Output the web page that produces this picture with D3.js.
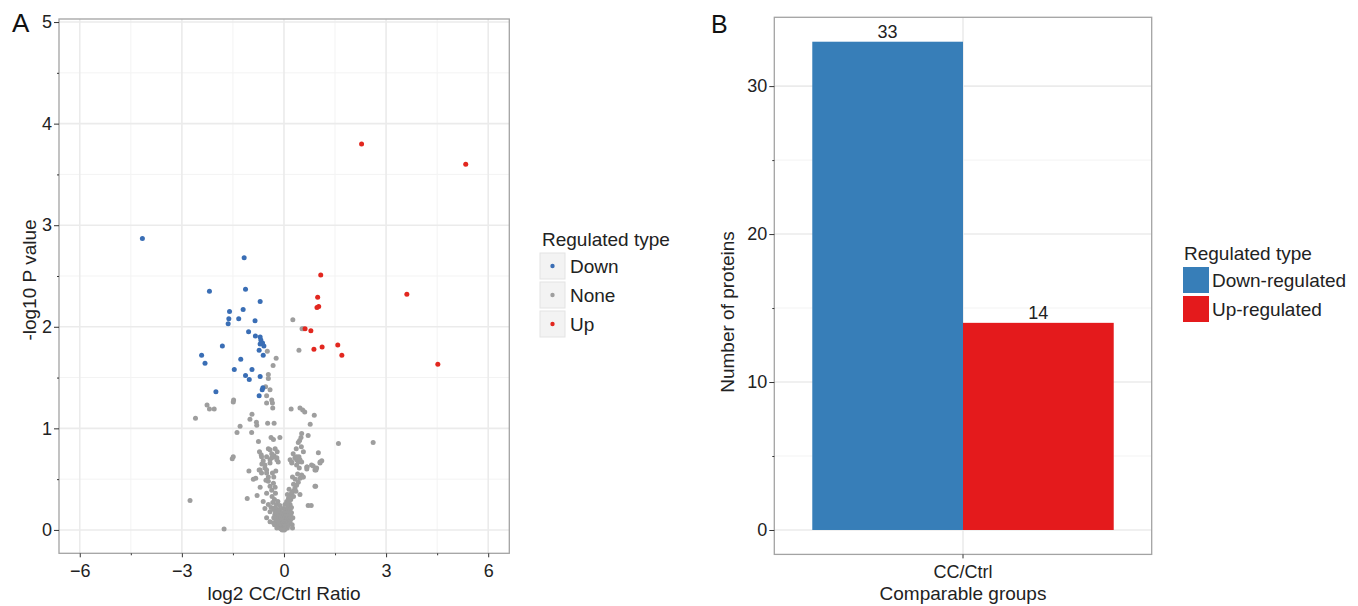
<!DOCTYPE html>
<html>
<head>
<meta charset="utf-8">
<script src="https://cdn.jsdelivr.net/npm/d3@7"></script>
<style>
  body { margin: 0; background: #fff; }
  svg { font-family: "Liberation Sans", Arial, Helvetica, sans-serif; }
  .axis text { font-size: 18px; fill: #222; }
  .axis line { stroke: #333; }
  .axis path { display: none; }
</style>
</head>
<body>
<script>
// ---- data: panel A (volcano), [log2 ratio, -log10 p] ----
var downPoints = [
  [-4.16,2.87],[-1.17,2.68],[-2.19,2.35],[-1.13,2.37],[-0.70,2.25],[-1.60,2.15],[-1.20,2.17],
  [-1.62,2.08],[-1.64,2.03],[-1.33,2.08],[-0.85,2.06],[-1.04,1.95],[-0.84,1.91],[-0.70,1.90],
  [-0.68,1.87],[-0.63,1.84],[-0.70,1.83],[-0.59,1.81],[-0.73,1.77],[-0.61,1.72],[-1.81,1.81],
  [-2.42,1.72],[-2.32,1.64],[-1.27,1.68],[-1.46,1.58],[-0.94,1.58],[-1.13,1.52],[-1.02,1.48],
  [-0.70,1.51],[-2.00,1.36],[-0.64,1.38],[-0.62,1.40],[-0.73,1.32]
];
var upPoints = [
  [2.28,3.80],[5.34,3.60],[1.08,2.51],[0.99,2.29],[1.02,2.20],[0.97,2.19],[3.61,2.32],
  [0.62,1.98],[0.79,1.96],[0.88,1.78],[1.12,1.80],[1.58,1.82],[1.70,1.72],[4.52,1.63]
];
var nonePoints = [
  [0.26,2.07],[0.53,1.98],[0.57,1.98],[0.44,1.77],[-0.49,1.76],[-0.23,1.69],[-0.32,1.62],[-0.46,1.53],
  [-0.46,1.49],[-0.54,1.41],[-0.41,1.38],[-0.51,1.32],[-0.36,1.28],[-0.34,1.25],[-0.33,1.20],[-0.51,1.25],
  [-1.48,1.28],[-1.49,1.26],[-2.26,1.23],[-2.19,1.19],[-2.05,1.19],[-2.60,1.10],[-0.94,1.14],[-1.00,1.09],
  [-0.81,1.06],[-0.80,1.03],[-1.29,1.02],[-1.38,0.96],[-0.95,0.96],[-0.48,1.05],[-0.29,1.05],[0.21,1.19],
  [0.47,1.20],[0.55,1.18],[0.61,1.16],[0.89,1.13],[0.77,1.04],[0.52,0.95],[0.50,0.91],[0.46,0.88],
  [0.42,0.86],[0.71,0.93],[1.60,0.85],[2.62,0.86],[-0.75,0.87],[-0.38,0.91],[-0.31,0.89],[-0.12,0.91],
  [-0.46,0.80],[-0.41,0.79],[-0.26,0.80],[-0.20,0.77],[-0.36,0.75],[-0.29,0.73],[-0.21,0.71],[-0.17,0.67],
  [-0.41,0.69],[-0.61,0.68],[-0.65,0.65],[-0.72,0.77],[-0.67,0.74],[-1.49,0.72],[-1.52,0.70],
  [0.51,0.82],[0.57,0.77],[0.44,0.72],[0.23,0.67],[0.37,0.69],[0.52,0.67],[0.27,0.75],[0.36,0.80],
  [1.01,0.76],[1.11,0.68],[1.06,0.66],[0.86,0.63],[0.94,0.59],[0.68,0.62],
  [-1.03,0.58],[-0.83,0.51],[-0.90,0.50],[-0.73,0.59],[-0.70,0.42],[-0.79,0.34],[-1.08,0.31],[-2.76,0.29],
  [-1.76,0.01],[-0.56,0.61],[-0.51,0.56],[-0.46,0.52],[-0.53,0.49],[-0.70,0.59],[-0.66,0.56],[-0.51,0.59],
  [-0.56,0.64],[-0.41,0.66],[-0.36,0.71],[-0.31,0.72],[-0.21,0.69],[-0.51,0.72],[-0.66,0.72],
  [-0.46,0.48],[-0.41,0.43],[-0.31,0.46],[-0.36,0.39],[-0.51,0.36],[-0.61,0.28],[-0.46,0.25],[-0.56,0.21],
  [-0.41,0.18],[-0.51,0.12],[-0.41,0.08],[-0.31,0.07],[-0.35,0.33],[-0.28,0.30],[-0.25,0.36],[-0.33,0.27],
  [-0.22,0.25],[-0.38,0.22],[-0.30,0.20],[-0.27,0.15],[-0.20,0.12],[-0.26,0.42],[-0.30,0.52],[-0.24,0.58],
  [-0.34,0.56],
  [0.93,0.43],[0.71,0.24],[0.80,0.24],[0.37,0.44],[0.32,0.41],[0.27,0.38],[0.18,0.34],[0.13,0.31],
  [0.08,0.28],[0.03,0.25],[-0.02,0.21],[0.47,0.51],[0.52,0.54],[0.57,0.52],[0.45,0.61],[0.42,0.67],
  [0.37,0.64],[0.32,0.71],[0.18,0.69],[0.23,0.66],[0.37,0.72],[0.47,0.69],[0.67,0.62],[0.81,0.64],
  [0.91,0.59],[0.96,0.61],[1.06,0.67],[0.91,0.43],[0.22,0.36],[0.28,0.45],[0.33,0.50],[0.25,0.52],
  [0.40,0.55],[0.15,0.40],[0.10,0.35],[0.20,0.30],[0.12,0.22],[0.06,0.18],[0.18,0.25],[0.28,0.33],
  [0.35,0.38],[0.42,0.47],[0.47,0.35],[0.55,0.52],[0.67,0.60],
  [-0.12,0.24],[0.10,0.26],[-0.18,0.28],[0.16,0.29],
  [-0.20,0.20],[-0.12,0.20],[0.05,0.20],[0.12,0.20],[0.18,0.20],
  [-0.25,0.17],[-0.15,0.17],[-0.05,0.17],[0.02,0.17],[0.10,0.17],[0.16,0.17],[0.22,0.17],
  [-0.22,0.14],[-0.14,0.14],[-0.08,0.14],[0.00,0.14],[0.06,0.14],[0.13,0.14],[0.19,0.14],
  [-0.24,0.11],[-0.18,0.11],[-0.10,0.11],[-0.03,0.11],[0.04,0.11],[0.09,0.11],[0.15,0.11],[0.21,0.11],
  [-0.22,0.08],[-0.15,0.08],[-0.07,0.08],[0.00,0.08],[0.07,0.08],[0.12,0.08],[0.18,0.08],
  [-0.19,0.06],[-0.12,0.06],[-0.05,0.06],[0.03,0.06],[0.09,0.06],[0.15,0.06],
  [-0.16,0.04],[-0.09,0.04],[-0.02,0.04],[0.05,0.04],[0.11,0.04],
  [-0.13,0.02],[-0.06,0.02],[0.00,0.02],[0.06,0.02],[0.10,0.02],
  [-0.08,0.01],[-0.02,0.01],[0.03,0.01],[-0.05,0.00],[0.01,0.00],
  [-0.30,0.12],[-0.28,0.05],[0.24,0.05],[0.26,0.12],[0.22,0.22],[-0.26,0.22],[0.25,0.02],[-0.21,0.02]
];
var regTypes = ["Down", "None", "Up"];
var volcanoXTicks = [-6, -3, 0, 3, 6];
var volcanoYTicks = [0, 1, 2, 3, 4, 5];

// ---- data: panel B (bar counts) ----
var barGroups = ["CC/Ctrl"];
var barTypes = ["Down-regulated", "Up-regulated"];
var barCounts = [33, 14];
var barYTicks = [0, 10, 20, 30];

var pointColor = {Down: "#3a6eb5", None: "#9e9e9e", Up: "#e2271f"};
var barColor = {"Down-regulated": "#377eb8", "Up-regulated": "#e41a1c"};

var svg = d3.select("body").append("svg").attr("width", 1358).attr("height", 606);

function halfSteps(ticks) {
  var out = [];
  for (var i = 0; i < ticks.length - 1; i++) out.push((ticks[i] + ticks[i + 1]) / 2);
  return out;
}

// ================= Panel A =================
var xA = d3.scaleLinear().domain([-6.61, 6.62]).range([59, 509.3]);
var yA = d3.scaleLinear().domain([-0.23, 5.03]).range([553.3, 19]);

var gA = svg.append("g");
var xMinorA = halfSteps(volcanoXTicks), yMinorA = halfSteps(volcanoYTicks);

gA.selectAll(".minx").data(xMinorA).enter().append("line")
  .attr("x1", d => xA(d)).attr("x2", d => xA(d)).attr("y1", 19).attr("y2", 553.3)
  .attr("stroke", "#f3f3f3").attr("stroke-width", 1);
gA.selectAll(".miny").data(yMinorA).enter().append("line")
  .attr("y1", d => yA(d)).attr("y2", d => yA(d)).attr("x1", 59).attr("x2", 509.3)
  .attr("stroke", "#f3f3f3").attr("stroke-width", 1);
gA.selectAll(".majx").data(volcanoXTicks).enter().append("line")
  .attr("x1", d => xA(d)).attr("x2", d => xA(d)).attr("y1", 19).attr("y2", 553.3)
  .attr("stroke", "#ebebeb").attr("stroke-width", 1.6);
gA.selectAll(".majy").data(volcanoYTicks).enter().append("line")
  .attr("y1", d => yA(d)).attr("y2", d => yA(d)).attr("x1", 59).attr("x2", 509.3)
  .attr("stroke", "#ebebeb").attr("stroke-width", 1.6);

var allPts = [];
nonePoints.forEach(p => allPts.push({x: p[0], y: p[1], t: "None"}));
downPoints.forEach(p => allPts.push({x: p[0], y: p[1], t: "Down"}));
upPoints.forEach(p => allPts.push({x: p[0], y: p[1], t: "Up"}));

gA.selectAll("circle.pt").data(allPts).enter().append("circle")
  .attr("class", "pt")
  .attr("cx", d => xA(d.x)).attr("cy", d => yA(d.y)).attr("r", 2.5)
  .attr("fill", d => pointColor[d.t]);

gA.append("rect").attr("x", 59).attr("y", 19).attr("width", 450.3).attr("height", 534.3)
  .attr("fill", "none").attr("stroke", "#a3a3a3").attr("stroke-width", 1.3);

gA.append("g").attr("class", "axis").attr("transform", "translate(59,0)")
  .call(d3.axisLeft(yA).tickValues(volcanoYTicks).tickSize(5).tickPadding(2).tickFormat(d3.format("d")));
gA.append("g").attr("class", "axis").attr("transform", "translate(59,0)")
  .call(d3.axisLeft(yA).tickValues(yMinorA).tickSize(2).tickFormat(""));
gA.append("g").attr("class", "axis").attr("transform", "translate(0,553.3)")
  .call(d3.axisBottom(xA).tickValues(volcanoXTicks).tickSize(4).tickPadding(7).tickFormat(d3.format("d")));
gA.append("g").attr("class", "axis").attr("transform", "translate(0,553.3)")
  .call(d3.axisBottom(xA).tickValues(xMinorA).tickSize(2).tickFormat(""));

gA.append("text").attr("x", 284).attr("y", 600).attr("text-anchor", "middle")
  .attr("font-size", 19).attr("fill", "#222").text("log2 CC/Ctrl Ratio");
gA.append("text").attr("transform", "translate(36,280) rotate(-90)").attr("text-anchor", "middle")
  .attr("font-size", 19).attr("fill", "#222").text("-log10 P value");
gA.append("text").attr("x", 12).attr("y", 32).attr("font-size", 26).attr("fill", "#111").text("A");

// legend A
var legA = svg.append("g").attr("transform", "translate(540,0)");
legA.append("text").attr("x", 2).attr("y", 246).attr("font-size", 19).attr("fill", "#222").text("Regulated type");
var itemA = legA.selectAll(".it").data(regTypes).enter().append("g")
  .attr("transform", (d, i) => "translate(0," + (253 + i * 29) + ")");
itemA.append("rect").attr("width", 25).attr("height", 26).attr("fill", "#f3f3f3").attr("stroke", "#e3e3e3");
itemA.append("circle").attr("cx", 12.5).attr("cy", 13).attr("r", 2.2).attr("fill", d => pointColor[d]);
itemA.append("text").attr("x", 30).attr("y", 13).attr("dy", "0.36em").attr("font-size", 19).attr("fill", "#222").text(d => d);

// ================= Panel B =================
var xB = d3.scaleBand().domain(barGroups).range([774.3, 1151.7]).paddingInner(0).paddingOuter(0.126);
var xSub = d3.scaleBand().domain(barTypes).range([0, xB.bandwidth()]);
var yB = d3.scaleLinear().domain([-1.65, 34.65]).range([554.4, 17.3]);

var gB = svg.append("g");
var yMinorB = halfSteps(barYTicks);
gB.selectAll(".miny").data(yMinorB).enter().append("line")
  .attr("y1", d => yB(d)).attr("y2", d => yB(d)).attr("x1", 774.3).attr("x2", 1151.7)
  .attr("stroke", "#f3f3f3").attr("stroke-width", 1);
gB.selectAll(".majy").data(barYTicks).enter().append("line")
  .attr("y1", d => yB(d)).attr("y2", d => yB(d)).attr("x1", 774.3).attr("x2", 1151.7)
  .attr("stroke", "#ebebeb").attr("stroke-width", 1.6);
gB.selectAll(".majx").data(barGroups).enter().append("line")
  .attr("x1", d => xB(d) + xB.bandwidth() / 2).attr("x2", d => xB(d) + xB.bandwidth() / 2)
  .attr("y1", 17.3).attr("y2", 554.4).attr("stroke", "#ebebeb").attr("stroke-width", 1.6);

var bars = barTypes.map((t, i) => ({group: barGroups[0], type: t, value: barCounts[i]}));
gB.selectAll("rect.bar").data(bars).enter().append("rect")
  .attr("class", "bar")
  .attr("x", d => xB(d.group) + xSub(d.type)).attr("width", xSub.bandwidth())
  .attr("y", d => yB(d.value)).attr("height", d => yB(0) - yB(d.value))
  .attr("fill", d => barColor[d.type]);
gB.selectAll("text.val").data(bars).enter().append("text")
  .attr("class", "val")
  .attr("x", d => xB(d.group) + xSub(d.type) + xSub.bandwidth() / 2)
  .attr("y", d => yB(d.value) - 4).attr("text-anchor", "middle")
  .attr("font-size", 18).attr("fill", "#222").text(d => d.value);

gB.append("rect").attr("x", 774.3).attr("y", 17.3).attr("width", 377.4).attr("height", 537.1)
  .attr("fill", "none").attr("stroke", "#a3a3a3").attr("stroke-width", 1.3);

gB.append("g").attr("class", "axis").attr("transform", "translate(774.3,0)")
  .call(d3.axisLeft(yB).tickValues(barYTicks).tickSize(5).tickPadding(2));
gB.append("g").attr("class", "axis").attr("transform", "translate(774.3,0)")
  .call(d3.axisLeft(yB).tickValues(yMinorB).tickSize(2).tickFormat(""));
gB.append("g").attr("class", "axis").attr("transform", "translate(0,554.4)")
  .call(d3.axisBottom(xB).tickSize(4).tickPadding(7));

gB.append("text").attr("x", 963).attr("y", 600).attr("text-anchor", "middle")
  .attr("font-size", 19).attr("fill", "#222").text("Comparable groups");
gB.append("text").attr("transform", "translate(734,312) rotate(-90)").attr("text-anchor", "middle")
  .attr("font-size", 19).attr("fill", "#222").text("Number of proteins");
gB.append("text").attr("x", 711).attr("y", 33).attr("font-size", 25).attr("fill", "#111").text("B");

// legend B
var legB = svg.append("g").attr("transform", "translate(1183,0)");
legB.append("text").attr("x", 1).attr("y", 260).attr("font-size", 19).attr("fill", "#222").text("Regulated type");
var itemB = legB.selectAll(".it").data(barTypes).enter().append("g")
  .attr("transform", (d, i) => "translate(0," + (267 + i * 29) + ")");
itemB.append("rect").attr("width", 26).attr("height", 26).attr("fill", d => barColor[d]);
itemB.append("text").attr("x", 29).attr("y", 13).attr("dy", "0.36em").attr("font-size", 19).attr("fill", "#222").text(d => d);
</script>
</body>
</html>
